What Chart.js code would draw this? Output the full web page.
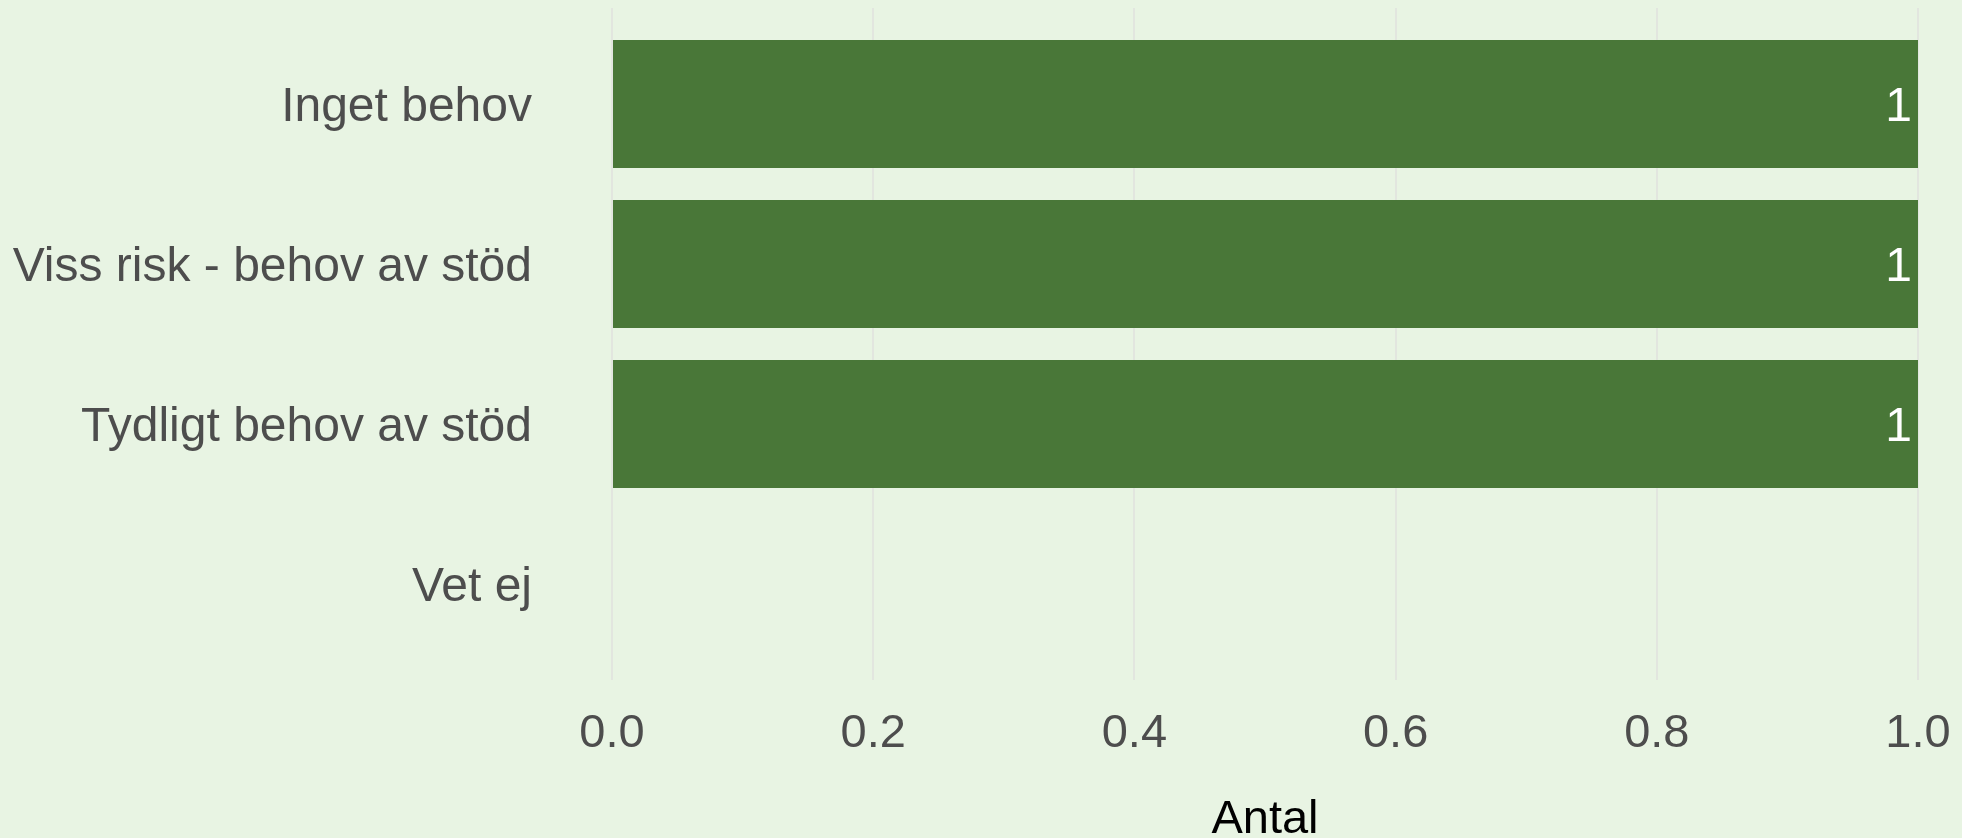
<!DOCTYPE html>
<html>
<head>
<meta charset="utf-8">
<script src="https://cdn.jsdelivr.net/npm/chart.js@4"></script>
<style>
  html, body { margin: 0; padding: 0; background: #e8f4e3; }
  canvas { display: block; }
</style>
</head>
<body>
<canvas id="chart" width="1962" height="838"></canvas>
<script>
const categories = ["Inget behov", "Viss risk - behov av stöd", "Tydligt behov av stöd", "Vet ej"];
const counts = [1, 1, 1, 0];
const xTicks = [0, 0.2, 0.4, 0.6, 0.8, 1.0];

const barColour = "rgb(73,119,56)";
const font = "'Liberation Sans', Arial, sans-serif";

// draw the count inside the end of each non-zero bar
const barLabels = {
    id: "barLabels",
    afterDatasetsDraw(chart) {
        const ctx = chart.ctx;
        const meta = chart.getDatasetMeta(0);
        ctx.save();
        ctx.fillStyle = "#ffffff";
        ctx.font = "48px " + font;
        ctx.textAlign = "right";
        ctx.textBaseline = "middle";
        meta.data.forEach((bar, i) => {
            if (!counts[i]) return;
            ctx.fillText(String(counts[i]), bar.x - 6, bar.y + 4);
        });
        ctx.restore();
    }
};

const data = {
    datasets: [{
        label: "Antal",
        data: counts.map((v, i) => ({x: v, y: i})),
        backgroundColor: barColour,
        borderWidth: 0,
        barPercentage: 0.8,
        categoryPercentage: 1.0
    }]
};

const config = {
    type: "bar",
    data: data,
    options: {
        indexAxis: "y",
        responsive: false,
        animation: false,
        devicePixelRatio: 1,
        layout: {padding: {top: 8, right: 44, left: 0, bottom: 0}},
        plugins: {
            legend: {display: false},
            tooltip: {enabled: false}
        },
        scales: {
            x: {
                type: "linear",
                min: 0,
                max: 1,
                afterBuildTicks: (scale) => { scale.ticks = xTicks.map(v => ({value: v})); },
                afterFit: (scale) => {
                    scale.height = 158;
                    scale.paddingLeft = 0;
                    scale.paddingRight = 0;
                },
                grid: {color: "#e2e6df", lineWidth: 2, drawTicks: false},
                border: {display: false},
                ticks: {
                    padding: 26,
                    color: "#4d4d4d",
                    font: {family: font, size: 47},
                    callback: v => v.toFixed(1)
                },
                title: {
                    display: true,
                    text: "Antal",
                    color: "#000000",
                    font: {family: font, size: 47, lineHeight: 0.75},
                    padding: {top: 0, bottom: 0}
                }
            },
            y: {
                type: "linear",
                reverse: true,
                offset: false,
                min: -0.6,
                max: categories.length - 0.4,
                afterBuildTicks: (scale) => { scale.ticks = categories.map((c, i) => ({value: i})); },
                afterFit: (scale) => { scale.width = 612; scale.paddingTop = 0; scale.paddingBottom = 0; },
                grid: {display: false, drawTicks: false, offset: false},
                border: {display: false},
                ticks: {
                    padding: 80,
                    labelOffset: 4,
                    color: "#4d4d4d",
                    font: {family: font, size: 48},
                    callback: v => categories[v]
                }
            }
        }
    },
    plugins: [barLabels]
};

new Chart(document.getElementById("chart"), config);
</script>
</body>
</html>
